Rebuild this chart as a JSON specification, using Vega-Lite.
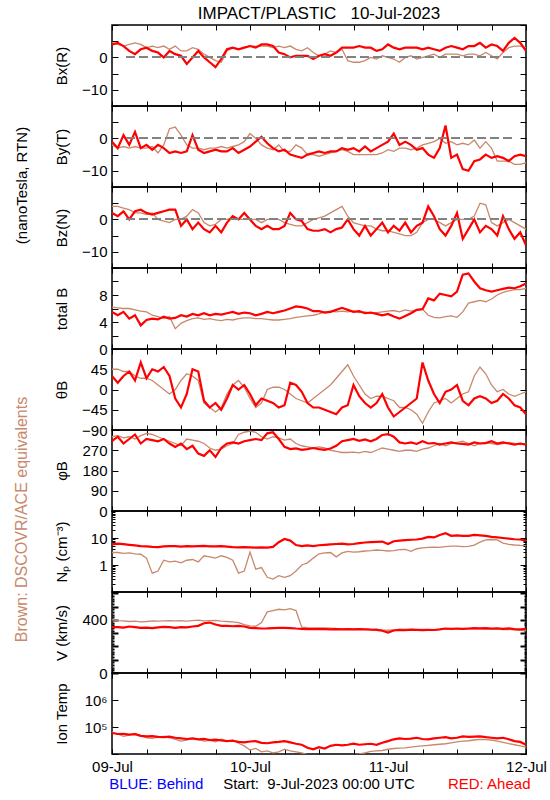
{
"$schema":"https://vega.github.io/schema/vega-lite/v6.json",
"padding":{"left":13,"top":4,"right":0,"bottom":0},
"spacing":0,
"bounds":"flush",
"datasets":{"d":[
{"h":0,"bxa":4,"bxb":4.5,"bya":-1,"byb":-2,"bza":2,"bzb":4,"bta":5.5,"btb":6.2,"tha":30,"thb":45,"pha":310,"phb":330,"npa":5.8,"npb":2.9,"va":345,"vb":400,"ta":60000,"tb":65000},
{"h":1,"bxa":4.5,"bxb":4,"bya":-3,"byb":-3,"bza":1,"bzb":4,"bta":5,"btb":6.1,"tha":15,"thb":45,"pha":330,"phb":335,"npa":6.2,"npb":2.9,"va":345,"vb":395,"ta":55000,"tb":55000},
{"h":2,"bxa":3.5,"bxb":3.5,"bya":1,"byb":-2.5,"bza":2.5,"bzb":3.5,"bta":5.5,"btb":6,"tha":30,"thb":40,"pha":300,"phb":325,"npa":5.9,"npb":2.7,"va":342,"vb":392,"ta":56000,"tb":45000},
{"h":3,"bxa":2,"bxb":4,"bya":-2,"byb":-3,"bza":0,"bzb":3,"bta":4.5,"btb":6,"tha":40,"thb":40,"pha":320,"phb":330,"npa":5.6,"npb":2.8,"va":350,"vb":388,"ta":52000,"tb":50000},
{"h":4,"bxa":1,"bxb":4.5,"bya":2,"byb":-2.5,"bza":2.5,"bzb":2,"bta":5,"btb":5.8,"tha":20,"thb":30,"pha":340,"phb":320,"npa":5.3,"npb":2.6,"va":345,"vb":390,"ta":54000,"tb":58000},
{"h":5,"bxa":2.5,"bxb":4,"bya":-3,"byb":-3,"bza":3,"bzb":2,"bta":3.5,"btb":5.6,"tha":60,"thb":25,"pha":300,"phb":335,"npa":5.0,"npb":2.5,"va":340,"vb":385,"ta":47000,"tb":48000},
{"h":6,"bxa":3,"bxb":3,"bya":-2,"byb":-3,"bza":2,"bzb":1.5,"bta":4.3,"btb":5.5,"tha":25,"thb":25,"pha":320,"phb":345,"npa":4.9,"npb":1.8,"va":342,"vb":388,"ta":45000,"tb":40000},
{"h":7,"bxa":2,"bxb":3.5,"bya":-3.5,"byb":-2.5,"bza":1.5,"bzb":2,"bta":4.5,"btb":5,"tha":45,"thb":20,"pha":315,"phb":340,"npa":4.7,"npb":0.5,"va":338,"vb":392,"ta":46000,"tb":38000},
{"h":8,"bxa":1.5,"bxb":3,"bya":-2,"byb":-4.5,"bza":2,"bzb":0,"bta":4.4,"btb":4.8,"tha":40,"thb":10,"pha":310,"phb":330,"npa":4.6,"npb":0.6,"va":343,"vb":390,"ta":43000,"tb":42000},
{"h":9,"bxa":0,"bxb":3.5,"bya":-3,"byb":-2,"bza":2.5,"bzb":-0.5,"bta":4.8,"btb":4.5,"tha":50,"thb":0,"pha":320,"phb":320,"npa":4.9,"npb":1.5,"va":348,"vb":393,"ta":42000,"tb":45000},
{"h":10,"bxa":2,"bxb":2.5,"bya":-4.5,"byb":3,"bza":3,"bzb":-1,"bta":4.5,"btb":4.8,"tha":30,"thb":-10,"pha":300,"phb":310,"npa":5.0,"npb":1.3,"va":345,"vb":395,"ta":44000,"tb":40000},
{"h":11,"bxa":1,"bxb":3.5,"bya":-4,"byb":3.5,"bza":3,"bzb":0,"bta":4.6,"btb":3,"tha":-20,"thb":0,"pha":285,"phb":300,"npa":5.0,"npb":1.4,"va":340,"vb":392,"ta":40000,"tb":35000},
{"h":12,"bxa":0.5,"bxb":2,"bya":-4.5,"byb":1,"bza":-2,"bzb":0,"bta":5,"btb":3.8,"tha":-40,"thb":20,"pha":300,"phb":290,"npa":4.8,"npb":1.2,"va":346,"vb":394,"ta":38000,"tb":30000},
{"h":13,"bxa":-2,"bxb":2,"bya":-4,"byb":-2,"bza":0,"bzb":1,"bta":4.8,"btb":4.2,"tha":-10,"thb":35,"pha":275,"phb":320,"npa":5.0,"npb":1.5,"va":344,"vb":390,"ta":36000,"tb":33000},
{"h":14,"bxa":0,"bxb":3,"bya":1,"byb":-3,"bza":-3,"bzb":3,"bta":5.2,"btb":4.5,"tha":45,"thb":30,"pha":290,"phb":315,"npa":4.9,"npb":1.6,"va":350,"vb":395,"ta":38000,"tb":38000},
{"h":15,"bxa":2,"bxb":2.5,"bya":-3.5,"byb":-3,"bza":-1,"bzb":2,"bta":5,"btb":4.6,"tha":40,"thb":20,"pha":255,"phb":310,"npa":5.0,"npb":1.3,"va":355,"vb":398,"ta":35000,"tb":35000},
{"h":16,"bxa":0,"bxb":1,"bya":-4.5,"byb":-3.5,"bza":-3,"bzb":-1,"bta":5.3,"btb":4.4,"tha":-25,"thb":-30,"pha":245,"phb":300,"npa":5.1,"npb":2.2,"va":375,"vb":392,"ta":36000,"tb":30000},
{"h":17,"bxa":-1.5,"bxb":0,"bya":-4,"byb":-3,"bza":-4,"bzb":-2,"bta":5,"btb":4.5,"tha":-40,"thb":-40,"pha":270,"phb":280,"npa":4.9,"npb":2.0,"va":380,"vb":395,"ta":33000,"tb":32000},
{"h":18,"bxa":-3,"bxb":-1,"bya":-3.5,"byb":-3,"bza":-2,"bzb":-1.5,"bta":5.2,"btb":4.3,"tha":-30,"thb":-50,"pha":240,"phb":270,"npa":4.9,"npb":1.8,"va":365,"vb":396,"ta":34000,"tb":28000},
{"h":19,"bxa":-0.5,"bxb":-1.5,"bya":-4,"byb":-2.5,"bza":-4,"bzb":0,"bta":5.1,"btb":4.2,"tha":-45,"thb":-40,"pha":280,"phb":275,"npa":5.0,"npb":2.2,"va":355,"vb":390,"ta":32000,"tb":35000},
{"h":20,"bxa":2.5,"bxb":2,"bya":-4,"byb":-3,"bza":-1,"bzb":0,"bta":5.3,"btb":4.4,"tha":-20,"thb":-10,"pha":300,"phb":290,"npa":4.8,"npb":1.9,"va":355,"vb":388,"ta":30000,"tb":30000},
{"h":21,"bxa":3,"bxb":3,"bya":-3,"byb":-2.5,"bza":1,"bzb":0.5,"bta":5.5,"btb":4.3,"tha":10,"thb":10,"pha":305,"phb":300,"npa":4.6,"npb":1.5,"va":352,"vb":385,"ta":31000,"tb":33000},
{"h":22,"bxa":2.5,"bxb":2.5,"bya":-4.5,"byb":-2,"bza":0,"bzb":0,"bta":5.2,"btb":4.5,"tha":0,"thb":20,"pha":300,"phb":340,"npa":4.5,"npb":0.5,"va":355,"vb":380,"ta":28000,"tb":25000},
{"h":23,"bxa":3,"bxb":3,"bya":-3.5,"byb":-1,"bza":2,"bzb":0,"bta":5.4,"btb":4.6,"tha":10,"thb":5,"pha":310,"phb":350,"npa":4.6,"npb":0.6,"va":350,"vb":365,"ta":27000,"tb":20000},
{"h":24,"bxa":3.5,"bxb":3.5,"bya":-2.5,"byb":1.5,"bza":0,"bzb":0,"bta":5.3,"btb":4.6,"tha":-10,"thb":-20,"pha":315,"phb":355,"npa":4.5,"npb":3.0,"va":340,"vb":355,"ta":29000,"tb":14000},
{"h":25,"bxa":3,"bxb":3.5,"bya":-1,"byb":0,"bza":-2,"bzb":0,"bta":5,"btb":4.5,"tha":-35,"thb":-40,"pha":320,"phb":350,"npa":4.4,"npb":0.7,"va":338,"vb":352,"ta":30000,"tb":16000},
{"h":26,"bxa":4,"bxb":3.5,"bya":0.5,"byb":-2,"bza":-3,"bzb":-1,"bta":5.2,"btb":4.5,"tha":-20,"thb":-30,"pha":315,"phb":330,"npa":4.5,"npb":0.8,"va":335,"vb":380,"ta":26000,"tb":12000},
{"h":27,"bxa":4,"bxb":3.5,"bya":-1.5,"byb":-3,"bza":-2,"bzb":0,"bta":5.5,"btb":4.4,"tha":-25,"thb":0,"pha":345,"phb":320,"npa":4.4,"npb":0.35,"va":336,"vb":460,"ta":25000,"tb":13000},
{"h":28,"bxa":3.5,"bxb":3,"bya":-3,"byb":-3.5,"bza":-3,"bzb":0,"bta":5.3,"btb":4.3,"tha":-30,"thb":5,"pha":350,"phb":330,"npa":4.7,"npb":0.3,"va":338,"vb":470,"ta":27000,"tb":11000},
{"h":29,"bxa":1.5,"bxb":3.5,"bya":-4,"byb":-2,"bza":-3,"bzb":0,"bta":5.5,"btb":4.3,"tha":-40,"thb":5,"pha":320,"phb":325,"npa":7.0,"npb":0.4,"va":340,"vb":480,"ta":28000,"tb":12000},
{"h":30,"bxa":1,"bxb":3,"bya":-3.5,"byb":-4,"bza":-2,"bzb":-1,"bta":5.7,"btb":4.4,"tha":-35,"thb":0,"pha":285,"phb":315,"npa":9.2,"npb":0.35,"va":340,"vb":475,"ta":30000,"tb":15000},
{"h":31,"bxa":0,"bxb":3.5,"bya":-5,"byb":-4,"bza":2,"bzb":-1.5,"bta":6,"btb":4.5,"tha":15,"thb":-10,"pha":275,"phb":320,"npa":8.0,"npb":0.4,"va":338,"vb":485,"ta":27000,"tb":13000},
{"h":32,"bxa":0.5,"bxb":2.5,"bya":-5.5,"byb":-2,"bza":0,"bzb":-2,"bta":6.3,"btb":4.7,"tha":10,"thb":-20,"pha":278,"phb":300,"npa":5.5,"npb":0.6,"va":335,"vb":470,"ta":24000,"tb":12000},
{"h":33,"bxa":0.5,"bxb":2,"bya":-6,"byb":-3,"bza":-0.5,"bzb":-2,"bta":6.2,"btb":4.8,"tha":-5,"thb":-25,"pha":272,"phb":290,"npa":5.0,"npb":1.0,"va":333,"vb":345,"ta":22000,"tb":11000},
{"h":34,"bxa":0.5,"bxb":3,"bya":-5,"byb":-5,"bza":-3,"bzb":-1,"bta":6,"btb":4.9,"tha":-30,"thb":-30,"pha":275,"phb":285,"npa":5.3,"npb":1.2,"va":330,"vb":342,"ta":17000,"tb":9500},
{"h":35,"bxa":-0.5,"bxb":1.5,"bya":-4.5,"byb":-5,"bza":-3.5,"bzb":0,"bta":5.6,"btb":5,"tha":-40,"thb":-20,"pha":280,"phb":280,"npa":5.0,"npb":1.8,"va":330,"vb":340,"ta":15000,"tb":9000},
{"h":36,"bxa":0.5,"bxb":0.5,"bya":-4,"byb":-5.5,"bza":-3.5,"bzb":0.5,"bta":5.6,"btb":5.2,"tha":-40,"thb":-10,"pha":275,"phb":285,"npa":5.4,"npb":2.6,"va":332,"vb":338,"ta":18000,"tb":9500},
{"h":37,"bxa":1,"bxb":1,"bya":-4.5,"byb":-5,"bza":-3,"bzb":1,"bta":5.4,"btb":5.5,"tha":-45,"thb":0,"pha":272,"phb":280,"npa":5.6,"npb":2.8,"va":330,"vb":340,"ta":16000,"tb":9000},
{"h":38,"bxa":0.5,"bxb":2,"bya":-4,"byb":-4.5,"bza":-4,"bzb":2,"bta":5.5,"btb":5.6,"tha":-50,"thb":10,"pha":278,"phb":270,"npa":5.8,"npb":2.9,"va":328,"vb":338,"ta":20000,"tb":9500},
{"h":39,"bxa":1.5,"bxb":1.5,"bya":-4,"byb":-4,"bza":-3,"bzb":3,"bta":5.8,"btb":5.5,"tha":-55,"thb":25,"pha":290,"phb":265,"npa":6.0,"npb":2.0,"va":330,"vb":335,"ta":22000,"tb":9000},
{"h":40,"bxa":3,"bxb":2.5,"bya":-3,"byb":-3.5,"bza":-2.5,"bzb":4,"bta":6.1,"btb":5.6,"tha":-40,"thb":40,"pha":310,"phb":260,"npa":6.2,"npb":2.8,"va":329,"vb":333,"ta":21000,"tb":9000},
{"h":41,"bxa":3,"bxb":-1,"bya":-3.5,"byb":-4,"bza":0,"bzb":1,"bta":5.8,"btb":5.5,"tha":-35,"thb":55,"pha":315,"phb":260,"npa":5.8,"npb":3.2,"va":330,"vb":332,"ta":22000,"tb":9000},
{"h":42,"bxa":3,"bxb":-1.5,"bya":-3,"byb":-5,"bza":-3,"bzb":-1,"bta":5.5,"btb":5.6,"tha":10,"thb":30,"pha":320,"phb":262,"npa":6.0,"npb":3.0,"va":328,"vb":330,"ta":24000,"tb":9500},
{"h":43,"bxa":3.5,"bxb":-1.5,"bya":-4,"byb":-5,"bza":-5,"bzb":-1.5,"bta":5.6,"btb":5.4,"tha":-15,"thb":10,"pha":312,"phb":258,"npa":6.5,"npb":3.1,"va":330,"vb":332,"ta":22000,"tb":10000},
{"h":44,"bxa":3,"bxb":-1,"bya":-2.5,"byb":-5,"bza":-2,"bzb":-2,"bta":5.3,"btb":5.5,"tha":-30,"thb":-10,"pha":318,"phb":265,"npa":6.8,"npb":3.3,"va":328,"vb":330,"ta":23000,"tb":11000},
{"h":45,"bxa":3,"bxb":0,"bya":-4,"byb":-5,"bza":-5,"bzb":-2,"bta":5.4,"btb":5.3,"tha":-40,"thb":-20,"pha":310,"phb":260,"npa":7.0,"npb":3.4,"va":326,"vb":328,"ta":24000,"tb":12500},
{"h":46,"bxa":2,"bxb":-0.5,"bya":-3,"byb":-5,"bza":-3,"bzb":-3,"bta":5.2,"btb":5.4,"tha":-30,"thb":-15,"pha":320,"phb":270,"npa":7.2,"npb":3.6,"va":325,"vb":330,"ta":22000,"tb":13000},
{"h":47,"bxa":2.5,"bxb":0.5,"bya":-2,"byb":-4.5,"bza":-1,"bzb":-3.5,"bta":5,"btb":5.5,"tha":-10,"thb":-15,"pha":338,"phb":280,"npa":7.4,"npb":3.5,"va":318,"vb":325,"ta":26000,"tb":13500},
{"h":48,"bxa":4,"bxb":0,"bya":-1,"byb":-3.5,"bza":-4,"bzb":-3.5,"bta":5.2,"btb":5.6,"tha":-40,"thb":-20,"pha":342,"phb":275,"npa":6.0,"npb":3.3,"va":305,"vb":322,"ta":30000,"tb":15000},
{"h":49,"bxa":3,"bxb":-0.5,"bya":1.5,"byb":-4,"bza":-2,"bzb":-4,"bta":4.8,"btb":5.7,"tha":-60,"thb":-25,"pha":330,"phb":270,"npa":7.6,"npb":3.4,"va":320,"vb":325,"ta":35000,"tb":16000},
{"h":50,"bxa":2.5,"bxb":-1.5,"bya":-2,"byb":-3,"bza":-3.5,"bzb":-4.5,"bta":4.5,"btb":5.5,"tha":-50,"thb":-40,"pha":305,"phb":265,"npa":8.0,"npb":3.7,"va":325,"vb":328,"ta":38000,"tb":16500},
{"h":51,"bxa":3,"bxb":0,"bya":-1,"byb":-3,"bza":-1,"bzb":-5,"bta":4.9,"btb":5.8,"tha":-40,"thb":-40,"pha":300,"phb":270,"npa":8.3,"npb":3.8,"va":322,"vb":330,"ta":36000,"tb":17000},
{"h":52,"bxa":3,"bxb":0.5,"bya":-2,"byb":-3.5,"bza":-4,"bzb":-5,"bta":5.3,"btb":5.6,"tha":-30,"thb":-45,"pha":305,"phb":270,"npa":8.6,"npb":3.2,"va":326,"vb":328,"ta":37000,"tb":18000},
{"h":53,"bxa":3,"bxb":-0.5,"bya":-3.5,"byb":-3,"bza":-2,"bzb":-4,"bta":5.8,"btb":5.8,"tha":-20,"thb":-55,"pha":298,"phb":265,"npa":8.8,"npb":4.0,"va":325,"vb":326,"ta":40000,"tb":19000},
{"h":54,"bxa":2.5,"bxb":0,"bya":-3,"byb":-2,"bza":-1,"bzb":-1,"bta":5.9,"btb":5.9,"tha":60,"thb":-75,"pha":310,"phb":275,"npa":9.5,"npb":4.3,"va":323,"vb":328,"ta":36000,"tb":20000},
{"h":55,"bxa":3,"bxb":0.5,"bya":-5,"byb":-1.5,"bza":4,"bzb":0,"bta":7.5,"btb":5,"tha":20,"thb":-50,"pha":300,"phb":280,"npa":11,"npb":4.5,"va":325,"vb":326,"ta":35000,"tb":21000},
{"h":56,"bxa":2.5,"bxb":1,"bya":-6,"byb":-1,"bza":1,"bzb":0,"bta":7.2,"btb":4.7,"tha":-10,"thb":-30,"pha":302,"phb":290,"npa":10.5,"npb":4.6,"va":324,"vb":325,"ta":38000,"tb":22000},
{"h":57,"bxa":2,"bxb":0,"bya":-3,"byb":0,"bza":-3,"bzb":-1,"bta":8.2,"btb":4.6,"tha":-30,"thb":-25,"pha":295,"phb":300,"npa":13,"npb":4.5,"va":328,"vb":328,"ta":40000,"tb":23000},
{"h":58,"bxa":3,"bxb":1,"bya":4,"byb":-1.5,"bza":-5,"bzb":-2,"bta":8,"btb":4.8,"tha":-5,"thb":-20,"pha":300,"phb":290,"npa":15,"npb":4.8,"va":335,"vb":330,"ta":42000,"tb":24000},
{"h":59,"bxa":3.5,"bxb":1,"bya":-6,"byb":-1,"bza":-2,"bzb":-1,"bta":7.8,"btb":4.9,"tha":0,"thb":-30,"pha":305,"phb":300,"npa":12,"npb":5.0,"va":333,"vb":332,"ta":38000,"tb":26000},
{"h":60,"bxa":3,"bxb":1,"bya":-5,"byb":-2,"bza":2,"bzb":0,"bta":8.5,"btb":4.7,"tha":10,"thb":-20,"pha":300,"phb":305,"npa":12.5,"npb":5.0,"va":335,"vb":330,"ta":40000,"tb":28000},
{"h":61,"bxa":2.5,"bxb":0.5,"bya":-9.5,"byb":-1.5,"bza":-6,"bzb":0,"bta":11,"btb":5.5,"tha":-25,"thb":-10,"pha":298,"phb":310,"npa":12,"npb":4.8,"va":332,"vb":328,"ta":45000,"tb":30000},
{"h":62,"bxa":3.5,"bxb":1,"bya":-10,"byb":-2,"bza":-3,"bzb":0,"bta":11.2,"btb":6.8,"tha":-35,"thb":-5,"pha":295,"phb":300,"npa":12,"npb":4.9,"va":335,"vb":330,"ta":43000,"tb":31000},
{"h":63,"bxa":3.5,"bxb":1,"bya":-7,"byb":-0.5,"bza":0,"bzb":1,"bta":10,"btb":7,"tha":-20,"thb":30,"pha":305,"phb":290,"npa":13,"npb":5.5,"va":338,"vb":332,"ta":44000,"tb":33000},
{"h":64,"bxa":4.5,"bxb":0.5,"bya":-6.5,"byb":-3,"bza":-4,"bzb":5,"bta":9,"btb":7.2,"tha":-15,"thb":50,"pha":300,"phb":300,"npa":12.5,"npb":7.0,"va":336,"vb":333,"ta":45000,"tb":35000},
{"h":65,"bxa":3,"bxb":1.5,"bya":-5,"byb":-1,"bza":-2,"bzb":4.5,"bta":8.7,"btb":7,"tha":-20,"thb":35,"pha":302,"phb":305,"npa":12,"npb":8.5,"va":338,"vb":330,"ta":42000,"tb":34000},
{"h":66,"bxa":4,"bxb":0.5,"bya":-6,"byb":-3,"bza":-3,"bzb":-1,"bta":8.5,"btb":7.4,"tha":-30,"thb":10,"pha":310,"phb":300,"npa":11,"npb":8.8,"va":335,"vb":328,"ta":40000,"tb":33000},
{"h":67,"bxa":3.5,"bxb":-0.5,"bya":-5.5,"byb":-7,"bza":-5,"bzb":-2,"bta":8.7,"btb":8,"tha":-25,"thb":-5,"pha":300,"phb":295,"npa":10.5,"npb":8.5,"va":337,"vb":330,"ta":38000,"tb":30000},
{"h":68,"bxa":2,"bxb":1.5,"bya":-6,"byb":-7,"bza":1,"bzb":-1,"bta":8.9,"btb":8.4,"tha":-10,"thb":0,"pha":305,"phb":300,"npa":10,"npb":6.5,"va":333,"vb":327,"ta":40000,"tb":27000},
{"h":69,"bxa":4.5,"bxb":3,"bya":-7,"byb":-7,"bza":-3,"bzb":0,"bta":9.1,"btb":8.6,"tha":-20,"thb":-10,"pha":300,"phb":305,"npa":9.5,"npb":5.8,"va":336,"vb":328,"ta":35000,"tb":24000},
{"h":70,"bxa":6,"bxb":3.5,"bya":-5.5,"byb":-8,"bza":-6,"bzb":-1,"bta":9,"btb":8.8,"tha":-35,"thb":-15,"pha":295,"phb":300,"npa":9,"npb":5.5,"va":330,"vb":325,"ta":30000,"tb":22000},
{"h":71,"bxa":4.5,"bxb":3.5,"bya":-5,"byb":-8,"bza":-4,"bzb":-2,"bta":9.3,"btb":8.8,"tha":-40,"thb":-10,"pha":300,"phb":295,"npa":8.8,"npb":5.3,"va":328,"vb":322,"ta":28000,"tb":20000},
{"h":72,"bxa":2,"bxb":3,"bya":-5.5,"byb":-7.5,"bza":-8,"bzb":-3,"bta":9.7,"btb":9,"tha":-55,"thb":-5,"pha":295,"phb":300,"npa":8.0,"npb":5.2,"va":332,"vb":318,"ta":22000,"tb":18000}
]},
"data":{"name":"d"},
"vconcat":[
{"width":414,"height":81,
 "title":{"text":"IMPACT/PLASTIC\u00a0\u00a0\u00a010-Jul-2023","anchor":"middle","frame":"group","offset":-5,"fontSize":17},
 "layer":[
  {"mark":{"type":"line","color":"#C8886C","strokeWidth":1.3,"clip":true},
   "encoding":{"x":{"field":"h","type":"quantitative","scale":{"domain":[0,72],"nice":false,"zero":false},"axis":{"orient":"top","values":[0,6,12,18,24,30,36,42,48,54,60,66,72],"labels":false,"title":null}},
    "y":{"field":"bxb","type":"quantitative","scale":{"domain":[-15,10],"nice":false,"zero":false},"axis":{"orient":"right","values":[-15,-10,-5,0,5,10],"labels":false,"title":null}}}},
  {"mark":{"type":"line","color":"#FF0000","strokeWidth":2.2,"clip":true},
   "encoding":{"x":{"field":"h","type":"quantitative","axis":{"orient":"bottom","values":[0,6,12,18,24,30,36,42,48,54,60,66,72],"labels":false,"title":null}},
    "y":{"field":"bxa","type":"quantitative","axis":{"orient":"left","values":[-15,-10,-5,0,5,10],"labelExpr":"datum.value===0||datum.value===-10?datum.label:''","title":"Bx(R)","titleX":-51,"titleBaseline":"middle"}}}},
  {"mark":{"type":"rule","color":"#808080","strokeDash":[8,5],"strokeWidth":1},
   "encoding":{"x":{"datum":2.5,"type":"quantitative","axis":null},"x2":{"datum":70},"y":{"datum":0,"type":"quantitative","axis":null}}}
 ],
 "resolve":{"axis":{"x":"independent","y":"independent"}}},
{"width":414,"height":81,
 "title":{"text":"(nanoTesla, RTN)","orient":"left","anchor":"middle","offset":24,"dx":-39,"fontSize":15},
 "layer":[
  {"mark":{"type":"line","color":"#C8886C","strokeWidth":1.3,"clip":true},
   "encoding":{"x":{"field":"h","type":"quantitative","scale":{"domain":[0,72],"nice":false,"zero":false},"axis":{"orient":"top","values":[0,6,12,18,24,30,36,42,48,54,60,66,72],"labels":false,"title":null}},
    "y":{"field":"byb","type":"quantitative","scale":{"domain":[-15,10],"nice":false,"zero":false},"axis":{"orient":"right","values":[-15,-10,-5,0,5,10],"labels":false,"title":null}}}},
  {"mark":{"type":"line","color":"#FF0000","strokeWidth":2.2,"clip":true},
   "encoding":{"x":{"field":"h","type":"quantitative","axis":{"orient":"bottom","values":[0,6,12,18,24,30,36,42,48,54,60,66,72],"labels":false,"title":null}},
    "y":{"field":"bya","type":"quantitative","axis":{"orient":"left","values":[-15,-10,-5,0,5,10],"labelExpr":"datum.value===0||datum.value===-10?datum.label:''","title":"By(T)","titleX":-51,"titleBaseline":"middle"}}}},
  {"mark":{"type":"rule","color":"#808080","strokeDash":[8,5],"strokeWidth":1},
   "encoding":{"x":{"datum":2.5,"type":"quantitative","axis":null},"x2":{"datum":70},"y":{"datum":0,"type":"quantitative","axis":null}}}
 ],
 "resolve":{"axis":{"x":"independent","y":"independent"}}},
{"width":414,"height":81,
 "layer":[
  {"mark":{"type":"line","color":"#C8886C","strokeWidth":1.3,"clip":true},
   "encoding":{"x":{"field":"h","type":"quantitative","scale":{"domain":[0,72],"nice":false,"zero":false},"axis":{"orient":"top","values":[0,6,12,18,24,30,36,42,48,54,60,66,72],"labels":false,"title":null}},
    "y":{"field":"bzb","type":"quantitative","scale":{"domain":[-15,10],"nice":false,"zero":false},"axis":{"orient":"right","values":[-15,-10,-5,0,5,10],"labels":false,"title":null}}}},
  {"mark":{"type":"line","color":"#FF0000","strokeWidth":2.2,"clip":true},
   "encoding":{"x":{"field":"h","type":"quantitative","axis":{"orient":"bottom","values":[0,6,12,18,24,30,36,42,48,54,60,66,72],"labels":false,"title":null}},
    "y":{"field":"bza","type":"quantitative","axis":{"orient":"left","values":[-15,-10,-5,0,5,10],"labelExpr":"datum.value===0||datum.value===-10?datum.label:''","title":"Bz(N)","titleX":-51,"titleBaseline":"middle"}}}},
  {"mark":{"type":"rule","color":"#808080","strokeDash":[8,5],"strokeWidth":1},
   "encoding":{"x":{"datum":2.5,"type":"quantitative","axis":null},"x2":{"datum":70},"y":{"datum":0,"type":"quantitative","axis":null}}}
 ],
 "resolve":{"axis":{"x":"independent","y":"independent"}}},
{"width":414,"height":81,
 "layer":[
  {"mark":{"type":"line","color":"#C8886C","strokeWidth":1.3,"clip":true},
   "encoding":{"x":{"field":"h","type":"quantitative","scale":{"domain":[0,72],"nice":false,"zero":false},"axis":{"orient":"top","values":[0,6,12,18,24,30,36,42,48,54,60,66,72],"labels":false,"title":null}},
    "y":{"field":"btb","type":"quantitative","scale":{"domain":[0,12],"nice":false,"zero":false},"axis":{"orient":"right","values":[0,2,4,6,8,10,12],"labels":false,"title":null}}}},
  {"mark":{"type":"line","color":"#FF0000","strokeWidth":2.2,"clip":true},
   "encoding":{"x":{"field":"h","type":"quantitative","axis":{"orient":"bottom","values":[0,6,12,18,24,30,36,42,48,54,60,66,72],"labels":false,"title":null}},
    "y":{"field":"bta","type":"quantitative","axis":{"orient":"left","values":[0,2,4,6,8,10,12],"labelExpr":"datum.value===0||datum.value===4||datum.value===8?datum.label:''","title":"total B","titleX":-51,"titleBaseline":"middle"}}}}
 ],
 "resolve":{"axis":{"x":"independent","y":"independent"}}},
{"width":414,"height":81,
 "layer":[
  {"mark":{"type":"line","color":"#C8886C","strokeWidth":1.3,"clip":true},
   "encoding":{"x":{"field":"h","type":"quantitative","scale":{"domain":[0,72],"nice":false,"zero":false},"axis":{"orient":"top","values":[0,6,12,18,24,30,36,42,48,54,60,66,72],"labels":false,"title":null}},
    "y":{"field":"thb","type":"quantitative","scale":{"domain":[-90,90],"nice":false,"zero":false},"axis":{"orient":"right","values":[-90,-45,0,45,90],"labels":false,"title":null}}}},
  {"mark":{"type":"line","color":"#FF0000","strokeWidth":2.2,"clip":true},
   "encoding":{"x":{"field":"h","type":"quantitative","axis":{"orient":"bottom","values":[0,6,12,18,24,30,36,42,48,54,60,66,72],"labels":false,"title":null}},
    "y":{"field":"tha","type":"quantitative","axis":{"orient":"left","values":[-90,-45,0,45,90],"labelExpr":"datum.value<90?datum.label:''","title":"θB","titleX":-51,"titleBaseline":"middle"}}}}
 ],
 "resolve":{"axis":{"x":"independent","y":"independent"}}},
{"width":414,"height":81,
 "layer":[
  {"mark":{"type":"line","color":"#C8886C","strokeWidth":1.3,"clip":true},
   "encoding":{"x":{"field":"h","type":"quantitative","scale":{"domain":[0,72],"nice":false,"zero":false},"axis":{"orient":"top","values":[0,6,12,18,24,30,36,42,48,54,60,66,72],"labels":false,"title":null}},
    "y":{"field":"phb","type":"quantitative","scale":{"domain":[0,360],"nice":false,"zero":false},"axis":{"orient":"right","values":[0,90,180,270,360],"labels":false,"title":null}}}},
  {"mark":{"type":"line","color":"#FF0000","strokeWidth":2.2,"clip":true},
   "encoding":{"x":{"field":"h","type":"quantitative","axis":{"orient":"bottom","values":[0,6,12,18,24,30,36,42,48,54,60,66,72],"labels":false,"title":null}},
    "y":{"field":"pha","type":"quantitative","axis":{"orient":"left","values":[0,90,180,270,360],"labelExpr":"datum.value<360?datum.label:''","title":"φB","titleX":-51,"titleBaseline":"middle"}}}}
 ],
 "resolve":{"axis":{"x":"independent","y":"independent"}}},
{"width":414,"height":81,
 "title":{"text":"Brown: DSCOVR/ACE equivalents","orient":"left","anchor":"middle","offset":24,"dx":32,"fontSize":16,"color":"#C8886C"},
 "layer":[
  {"mark":{"type":"line","color":"#C8886C","strokeWidth":1.3,"clip":true},
   "encoding":{"x":{"field":"h","type":"quantitative","scale":{"domain":[0,72],"nice":false,"zero":false},"axis":{"orient":"top","values":[0,6,12,18,24,30,36,42,48,54,60,66,72],"labels":false,"title":null}},
    "y":{"field":"npb","type":"quantitative","scale":{"type":"log","domain":[0.1,100],"nice":false},"axis":{"orient":"right","values":[0.1,0.2,0.3,0.4,0.5,0.6,0.7,0.8,0.9,1,2,3,4,5,6,7,8,9,10,20,30,40,50,60,70,80,90,100],"labels":false,"title":null,"tickSize":{"condition":{"test":"datum.value===0.1||datum.value===1||datum.value===10||datum.value===100","value":-6},"value":-3}}}}},
  {"mark":{"type":"line","color":"#FF0000","strokeWidth":2.2,"clip":true},
   "encoding":{"x":{"field":"h","type":"quantitative","axis":{"orient":"bottom","values":[0,6,12,18,24,30,36,42,48,54,60,66,72],"labels":false,"title":null}},
    "y":{"field":"npa","type":"quantitative","axis":{"orient":"left","values":[0.1,0.2,0.3,0.4,0.5,0.6,0.7,0.8,0.9,1,2,3,4,5,6,7,8,9,10,20,30,40,50,60,70,80,90,100],"labelExpr":"datum.value===1?'1':datum.value===10?'10':''","tickSize":{"condition":{"test":"datum.value===0.1||datum.value===1||datum.value===10||datum.value===100","value":-6},"value":-3},"title":"Nₚ (cm⁻³)","titleX":-51,"titleBaseline":"middle"}}}}
 ],
 "resolve":{"axis":{"x":"independent","y":"independent"}}},
{"width":414,"height":81,
 "layer":[
  {"mark":{"type":"line","color":"#C8886C","strokeWidth":1.3,"clip":true},
   "encoding":{"x":{"field":"h","type":"quantitative","scale":{"domain":[0,72],"nice":false,"zero":false},"axis":{"orient":"top","values":[0,6,12,18,24,30,36,42,48,54,60,66,72],"labels":false,"title":null}},
    "y":{"field":"vb","type":"quantitative","scale":{"domain":[0,610],"nice":false,"zero":false},"axis":{"orient":"right","values":[0,20,40,60,80,100,120,140,160,180,200,220,240,260,280,300,320,340,360,380,400,420,440,460,480,500,520,540,560,580,600],"labels":false,"title":null,"tickWidth":2,"tickSize":{"condition":{"test":"datum.value%100===0","value":-6},"value":-2}}}}},
  {"mark":{"type":"line","color":"#FF0000","strokeWidth":2.2,"clip":true},
   "encoding":{"x":{"field":"h","type":"quantitative","axis":{"orient":"bottom","values":[0,6,12,18,24,30,36,42,48,54,60,66,72],"labels":false,"title":null}},
    "y":{"field":"va","type":"quantitative","axis":{"orient":"left","values":[0,20,40,60,80,100,120,140,160,180,200,220,240,260,280,300,320,340,360,380,400,420,440,460,480,500,520,540,560,580,600],"labelExpr":"datum.value===0||datum.value===400?datum.label:''","tickWidth":2,"tickSize":{"condition":{"test":"datum.value%100===0","value":-6},"value":-2},"title":"V (km/s)","titleX":-51,"titleBaseline":"middle"}}}}
 ],
 "resolve":{"axis":{"x":"independent","y":"independent"}}},
{"width":414,"height":81,
 "layer":[
  {"mark":{"type":"line","color":"#C8886C","strokeWidth":1.3,"clip":true},
   "encoding":{"x":{"field":"h","type":"quantitative","scale":{"domain":[0,72],"nice":false,"zero":false},"axis":{"orient":"top","values":[0,6,12,18,24,30,36,42,48,54,60,66,72],"labels":false,"title":null}},
    "y":{"field":"tb","type":"quantitative","scale":{"type":"log","domain":[10000,10000000],"nice":false},"axis":{"orient":"right","values":[10000,100000,1000000,10000000],"labels":false,"title":null}}}},
  {"mark":{"type":"line","color":"#FF0000","strokeWidth":2.2,"clip":true},
   "encoding":{"x":{"field":"h","type":"quantitative","axis":{"orient":"bottom","values":[0,6,12,18,24,30,36,42,48,54,60,66,72],"labelExpr":"datum.value===0?'09-Jul':datum.value===24?'10-Jul':datum.value===48?'11-Jul':datum.value===72?'12-Jul':''","title":null}},
    "y":{"field":"ta","type":"quantitative","axis":{"orient":"left","values":[10000,100000,1000000,10000000],"labelExpr":"datum.value===100000?'10⁵':datum.value===1000000?'10⁶':''","title":"Ion Temp","titleX":-51,"titleBaseline":"middle"}}}}
 ],
 "resolve":{"axis":{"x":"independent","y":"independent"}}},
{"width":414,"height":60,
 "data":{"values":[{"h":7.7,"t":"BLUE: Behind","c":"b"},{"h":36,"t":"Start:\u00a0\u00a09-Jul-2023 00:00 UTC","c":"k"},{"h":65.6,"t":"RED: Ahead","c":"r"}]},
 "mark":{"type":"text","fontSize":15,"font":"Liberation Sans"},
 "encoding":{"x":{"field":"h","type":"quantitative","scale":{"domain":[0,72],"nice":false,"zero":false},"axis":null},
  "text":{"field":"t","type":"nominal"},
  "color":{"field":"c","type":"nominal","scale":{"domain":["b","k","r"],"range":["#0000FF","#000000","#FF0000"]},"legend":null}},
 "view":{"stroke":null}}
],
"config":{
 "font":"Liberation Sans",
 "view":{"stroke":"#000000","strokeWidth":1.5},
 "axis":{"grid":false,"domain":false,"tickColor":"#000000","tickWidth":1,"labelColor":"#000000","labelFontSize":15,"labelFont":"Liberation Sans","titleFont":"Liberation Sans","titleFontSize":15,"titleFontWeight":"normal","titleColor":"#000000","labelOverlap":false,"labelFlush":false},
 "axisX":{"tickSize":-5,"labelPadding":10},
 "axisY":{"tickSize":-6,"labelPadding":11},
 "title":{"font":"Liberation Sans","fontSize":15,"fontWeight":"normal","color":"#000000"}
}
}
